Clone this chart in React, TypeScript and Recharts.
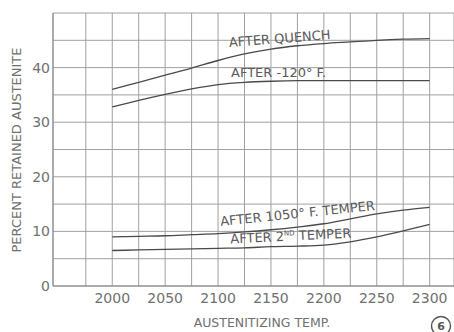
import { LineChart, Line, XAxis, YAxis, CartesianGrid } from "recharts";

// Austenitizing temperature (°F)
const temps = [2000, 2025, 2050, 2075, 2100, 2125, 2150, 2175, 2200, 2225, 2250, 2275, 2300];

// Percent retained austenite per treatment
const afterQuench = [36.0, 37.3, 38.6, 39.9, 41.3, 42.5, 43.4, 44.0, 44.4, 44.7, 45.0, 45.2, 45.3];
const afterMinus120 = [32.8, 34.0, 35.1, 36.1, 36.9, 37.3, 37.5, 37.6, 37.6, 37.6, 37.6, 37.6, 37.6];
const after1050Temper = [9.0, 9.1, 9.2, 9.4, 9.6, 9.9, 10.3, 10.8, 11.4, 12.3, 13.2, 13.9, 14.4];
const after2ndTemper = [6.5, 6.6, 6.7, 6.8, 6.9, 7.0, 7.2, 7.3, 7.5, 8.1, 9.0, 10.1, 11.3];

const xTicks = [1975, 2000, 2025, 2050, 2075, 2100, 2125, 2150, 2175, 2200, 2225, 2250, 2275, 2300];
const yTicks = [0, 5, 10, 15, 20, 25, 30, 35, 40, 45, 50];

const data = temps.map((t, i) => ({
  t,
  quench: afterQuench[i],
  minus120: afterMinus120[i],
  temper1050: after1050Temper[i],
  temper2: after2ndTemper[i],
}));

const INK = "#4a4a4a";
const TEXT = "#707070";
const FONT = "DejaVu Sans";

const SERIES = ["quench", "minus120", "temper1050", "temper2"];

export default function App() {
  return (
    <div style={{ position: "absolute", left: 0, top: 0, width: 454, height: 332, background: "#fff" }}>
      <LineChart width={454} height={332} data={data} margin={{ top: 13, right: 0, bottom: 0, left: 0 }}>
        <CartesianGrid stroke="#a0a0a0" strokeWidth={1} />
        <XAxis
          type="number"
          dataKey="t"
          domain={[1944, 2323]}
          ticks={xTicks}
          allowDataOverflow
          height={46}
          axisLine={{ stroke: "#888" }}
          tickLine={false}
          tickSize={4}
          tickMargin={3}
          tick={{ fontSize: 14, fill: TEXT, fontFamily: FONT }}
          tickFormatter={(v: number) => (v % 50 === 0 ? String(v) : "")}
        />
        <YAxis
          type="number"
          domain={[0, 50]}
          ticks={yTicks}
          width={53}
          axisLine={{ stroke: "#888" }}
          tickLine={false}
          tickSize={1}
          tickMargin={2}
          tick={{ fontSize: 14, fill: TEXT, fontFamily: FONT }}
          tickFormatter={(v: number) => (v % 10 === 0 && v < 50 ? String(v) : "")}
        />
        {SERIES.map((k) => (
          <Line
            key={k}
            type="monotone"
            dataKey={k}
            stroke={INK}
            strokeWidth={1.3}
            dot={false}
            isAnimationActive={false}
          />
        ))}
        <g fontFamily={FONT} fill={TEXT}>
          <text x={16} y={150} fontSize={13} textAnchor="middle" dominantBaseline="central" transform="rotate(-90, 16, 150)">
            PERCENT RETAINED AUSTENITE
          </text>
          <text x={262} y={327} fontSize={12.5} textAnchor="middle">
            AUSTENITIZING TEMP.
          </text>
        </g>
        <g fontFamily={FONT} fill="#5a5a5a" fontSize={13}>
          <text x={280} y={43} textAnchor="middle" transform="rotate(-4.5, 280, 43)">
            AFTER QUENCH
          </text>
          <text x={231} y={77}>AFTER -120° F.</text>
          <text x={298} y={218} textAnchor="middle" transform="rotate(-5.9, 298, 218)">
            AFTER 1050° F. TEMPER
          </text>
          <text x={291} y={240.5} textAnchor="middle" transform="rotate(-2.8, 291, 240.5)">
            AFTER 2<tspan fontSize={7} dy={-5}>ND</tspan>
            <tspan dy={5}> TEMPER</tspan>
          </text>
        </g>
        <g>
          <circle cx={441} cy={326} r={9.5} fill="none" stroke="#555" strokeWidth={1.4} />
          <text x={441} y={330} fontSize={11} fontWeight="bold" textAnchor="middle" fill="#555" fontFamily={FONT}>
            6
          </text>
        </g>
      </LineChart>
    </div>
  );
}
